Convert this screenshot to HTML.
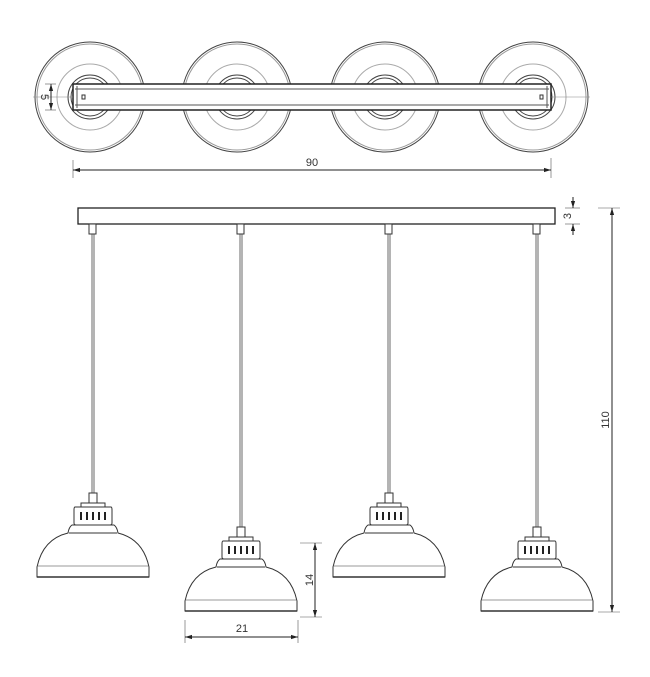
<!DOCTYPE html>
<html><head><style>body{margin:0;background:#fff}svg{display:block}text{font-family:"Liberation Sans",sans-serif;fill:#333}</style></head><body>
<svg width="650" height="677" viewBox="0 0 650 677" xmlns="http://www.w3.org/2000/svg">
<defs>
<marker id="a" viewBox="0 0 10 10" refX="10" refY="5" markerWidth="7" markerHeight="7" orient="auto-start-reverse"><path d="M0,2L10,5L0,8z" fill="#222"/></marker>
<g id="lamp" fill="#fff" stroke="#333" stroke-width="1">
<rect x="-4" y="0" width="8" height="10"/>
<rect x="-12" y="10" width="24" height="4"/>
<path d="M-18,14 H18 Q19,14 19,17 V30 Q19,32 17,32 H-17 Q-19,32 -19,30 V17 Q-19,14 -18,14Z"/>
<g stroke="#222" stroke-width="2"><line x1="-12" y1="19" x2="-12" y2="27"/><line x1="-6" y1="19" x2="-6" y2="27"/><line x1="0" y1="19" x2="0" y2="27"/><line x1="6" y1="19" x2="6" y2="27"/><line x1="12" y1="19" x2="12" y2="27"/></g>
<path d="M-21,32 H21 Q24,34 25,40 Q50,46 56,74 L56,84 H-56 L-56,74 Q-50,46 -25,40 Q-24,34 -21,32Z"/>
<line x1="-24" y1="40" x2="24" y2="40"/>
<line x1="-55" y1="73" x2="55" y2="73" stroke="#999"/>
<line x1="-56" y1="84" x2="56" y2="84" stroke-width="1.5"/>
</g>
<g id="disc" fill="none" stroke="#444" stroke-width="1">
<circle r="55"/><circle r="53" stroke="#999"/><circle r="33" stroke="#aaa"/><circle r="22"/><circle r="19"/>
</g>
</defs>
<!-- top view -->
<use href="#disc" x="90" y="97"/><use href="#disc" x="237" y="97"/><use href="#disc" x="385" y="97"/><use href="#disc" x="533" y="97"/>
<rect x="73" y="84" width="478" height="26" fill="#fff" stroke="#222" stroke-width="1.5"/>
<line x1="75" y1="89" x2="549" y2="89" stroke="#555"/><line x1="75" y1="105" x2="549" y2="105" stroke="#555"/>
<line x1="77" y1="86" x2="77" y2="108" stroke="#555"/><line x1="547" y1="86" x2="547" y2="108" stroke="#555"/>
<rect x="82" y="95" width="3" height="4" fill="none" stroke="#333"/><rect x="540" y="95" width="3" height="4" fill="none" stroke="#333"/>
<line x1="33" y1="97" x2="73" y2="97" stroke="#888" stroke-width="0.6"/>
<line x1="551" y1="97" x2="590" y2="97" stroke="#888" stroke-width="0.6"/>
<line x1="51" y1="84" x2="51" y2="110" stroke="#222" marker-start="url(#a)" marker-end="url(#a)"/>
<line x1="45" y1="84" x2="56" y2="84" stroke="#555" stroke-width="0.6"/><line x1="45" y1="110" x2="56" y2="110" stroke="#555" stroke-width="0.6"/>
<text x="45" y="97" font-size="11" text-anchor="middle" transform="rotate(90 45 97)" dy="4">5</text>
<line x1="73" y1="160" x2="73" y2="178" stroke="#555" stroke-width="0.6"/><line x1="551" y1="158" x2="551" y2="178" stroke="#555" stroke-width="0.6"/>
<line x1="73" y1="170" x2="551" y2="170" stroke="#222" marker-start="url(#a)" marker-end="url(#a)"/>
<text x="312" y="166" font-size="11" text-anchor="middle">90</text>
<!-- front view -->
<rect x="78" y="208" width="477" height="16" fill="#fff" stroke="#222" stroke-width="1.3"/>
<g fill="#fff" stroke="#333"><rect x="89" y="224" width="7" height="10"/><rect x="237" y="224" width="7" height="10"/><rect x="385" y="224" width="7" height="10"/><rect x="533" y="224" width="7" height="10"/></g>
<g stroke="#444" stroke-width="0.8"><line x1="92" y1="234" x2="92" y2="493"/><line x1="94" y1="234" x2="94" y2="493"/><line x1="240" y1="234" x2="240" y2="527"/><line x1="242" y1="234" x2="242" y2="527"/><line x1="388" y1="234" x2="388" y2="493"/><line x1="390" y1="234" x2="390" y2="493"/><line x1="536" y1="234" x2="536" y2="527"/><line x1="538" y1="234" x2="538" y2="527"/></g>
<use href="#lamp" x="93" y="493"/><use href="#lamp" x="241" y="527"/><use href="#lamp" x="389" y="493"/><use href="#lamp" x="537" y="527"/>
<!-- dims -->
<line x1="565" y1="208" x2="580" y2="208" stroke="#555" stroke-width="0.6"/><line x1="565" y1="224" x2="580" y2="224" stroke="#555" stroke-width="0.6"/>
<line x1="573" y1="197" x2="573" y2="208" stroke="#222" marker-end="url(#a)"/><line x1="573" y1="235" x2="573" y2="224" stroke="#222" marker-end="url(#a)"/>
<text x="567" y="216" font-size="11" text-anchor="middle" transform="rotate(-90 567 216)" dy="4">3</text>
<line x1="598" y1="208" x2="620" y2="208" stroke="#555" stroke-width="0.6"/><line x1="598" y1="612" x2="620" y2="612" stroke="#555" stroke-width="0.6"/>
<line x1="612" y1="208" x2="612" y2="612" stroke="#222" marker-start="url(#a)" marker-end="url(#a)"/>
<text x="605" y="420" font-size="11" text-anchor="middle" transform="rotate(-90 605 420)" dy="4">110</text>
<line x1="300" y1="543" x2="322" y2="543" stroke="#555" stroke-width="0.6"/><line x1="300" y1="617" x2="322" y2="617" stroke="#555" stroke-width="0.6"/>
<line x1="315" y1="543" x2="315" y2="617" stroke="#222" marker-start="url(#a)" marker-end="url(#a)"/>
<text x="309" y="580" font-size="11" text-anchor="middle" transform="rotate(-90 309 580)" dy="4">14</text>
<line x1="185" y1="620" x2="185" y2="643" stroke="#555" stroke-width="0.6"/><line x1="298" y1="620" x2="298" y2="643" stroke="#555" stroke-width="0.6"/>
<line x1="185" y1="637" x2="298" y2="637" stroke="#222" marker-start="url(#a)" marker-end="url(#a)"/>
<text x="242" y="632" font-size="11" text-anchor="middle">21</text>
</svg>
</body></html>
